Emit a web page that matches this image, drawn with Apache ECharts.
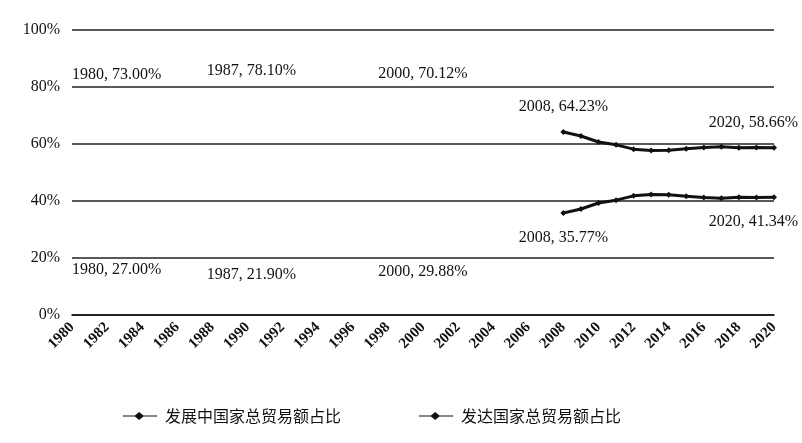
<!DOCTYPE html>
<html>
<head>
<meta charset="utf-8">
<script src="https://cdn.jsdelivr.net/npm/echarts@6/dist/echarts.min.js"></script>
<style>
html,body{margin:0;padding:0;background:#fff;}
#main{width:802px;height:443px;}
</style>
</head>
<body>
<div id="main"></div>
<script>
// Categories (years)
const years = [];
for (let y = 1980; y <= 2020; y++) years.push(String(y));

// Series names
const nameDeveloping = '发展中国家总贸易额占比';
const nameDeveloped = '发达国家总贸易额占比';

// Labelled values
const labelledYears = ['1980', '1987', '2000', '2008', '2020'];
const developedLabelled = [73.00, 78.10, 70.12, 64.23, 58.66];
const developingLabelled = [27.00, 21.90, 29.88, 35.77, 41.34];

// Visible line segment 2009-2019 (2008 and 2020 come from labels)
const lineYears = ['2009','2010','2011','2012','2013','2014','2015','2016','2017','2018','2019'];
const developingLine = [37.2, 39.3, 40.3, 41.8, 42.3, 42.2, 41.7, 41.2, 41.0, 41.3, 41.2];
const developedLine = [62.8, 60.7, 59.7, 58.2, 57.7, 57.8, 58.3, 58.8, 59.0, 58.7, 58.8];

// Y axis ticks
const yTicks = [0, 20, 40, 60, 80, 100];

// label styling per labelled year
const labelAlign = { '1980': 'left', '1987': 'left', '2000': 'center', '2008': 'center', '2020': 'right' };
const distTop = { '1980': 24, '1987': 14, '2000': 33, '2008': 14, '2020': 14 };
const distBottom = { '1980': 24, '1987': 14, '2000': 34, '2008': 14, '2020': 14 };

function buildData(labYears, labVals, lYears, lVals, pos, distMap) {
  return years.map(function (yr) {
    const li = labYears.indexOf(yr);
    const ki = lYears.indexOf(yr);
    if (li >= 0) {
      const v = labVals[li];
      const isolated = (yr === '1980' || yr === '1987' || yr === '2000');
      const al = labelAlign[yr];
      return {
        value: v,
        symbolSize: isolated ? 0 : 6,
        label: {
          show: true,
          position: pos,
          align: al,
          distance: distMap[yr],
          offset: al === 'right' ? [24, 0] : (yr === '1987' ? [12, 0] : [0, 0]),
          formatter: yr + ', ' + v.toFixed(2) + '%'
        }
      };
    }
    if (ki >= 0) return lVals[ki];
    return null;
  });
}

const developedData = buildData(labelledYears, developedLabelled, lineYears, developedLine, 'top', distTop);
const developingData = buildData(labelledYears, developingLabelled, lineYears, developingLine, 'bottom', distBottom);

const chart = echarts.init(document.getElementById('main'));
const serif = '"Liberation Serif", "DejaVu Serif", serif';
chart.setOption({
  animation: false,
  backgroundColor: '#fff',
  grid: { left: 72, right: 28, top: 30, bottom: 128 },
  legend: {
    bottom: 14,
    left: 118,
    itemGap: 78,
    itemWidth: 40,
    itemHeight: 8,
    icon: 'path://M0,4 L14,4 L19,0 L24,4 L40,4 L40,5.4 L24,5.4 L19,9.4 L14,5.4 L0,5.4 Z',
    textStyle: { fontFamily: '"Noto Sans CJK SC", sans-serif', fontSize: 16, color: '#111' },
    data: [nameDeveloping, nameDeveloped]
  },
  xAxis: {
    type: 'category',
    data: years,
    boundaryGap: false,
    axisLine: { show: true, lineStyle: { color: '#111', width: 1.6 } },
    axisTick: { show: false },
    axisLabel: {
      interval: 1,
      rotate: 45,
      fontFamily: serif,
      fontSize: 15,
      fontWeight: 'bold',
      color: '#111',
      margin: 10
    }
  },
  yAxis: {
    type: 'value',
    min: 0,
    max: 100,
    interval: 20,
    axisLine: { show: false },
    axisTick: { show: false },
    splitLine: { lineStyle: { color: '#222', width: 1.6 } },
    axisLabel: {
      formatter: function (v) { return yTicks.indexOf(v) >= 0 ? v + '%' : ''; },
      fontFamily: serif,
      fontSize: 16,
      color: '#111',
      margin: 12
    }
  },
  series: [
    {
      name: nameDeveloping,
      type: 'line',
      data: developingData,
      connectNulls: false,
      symbol: 'diamond',
      symbolSize: 6,
      lineStyle: { color: '#111', width: 3 },
      itemStyle: { color: '#111' },
      label: { fontFamily: serif, fontSize: 16, color: '#111' }
    },
    {
      name: nameDeveloped,
      type: 'line',
      data: developedData,
      connectNulls: false,
      symbol: 'diamond',
      symbolSize: 6,
      lineStyle: { color: '#111', width: 3 },
      itemStyle: { color: '#111' },
      label: { fontFamily: serif, fontSize: 16, color: '#111' }
    }
  ]
});
</script>
</body>
</html>
